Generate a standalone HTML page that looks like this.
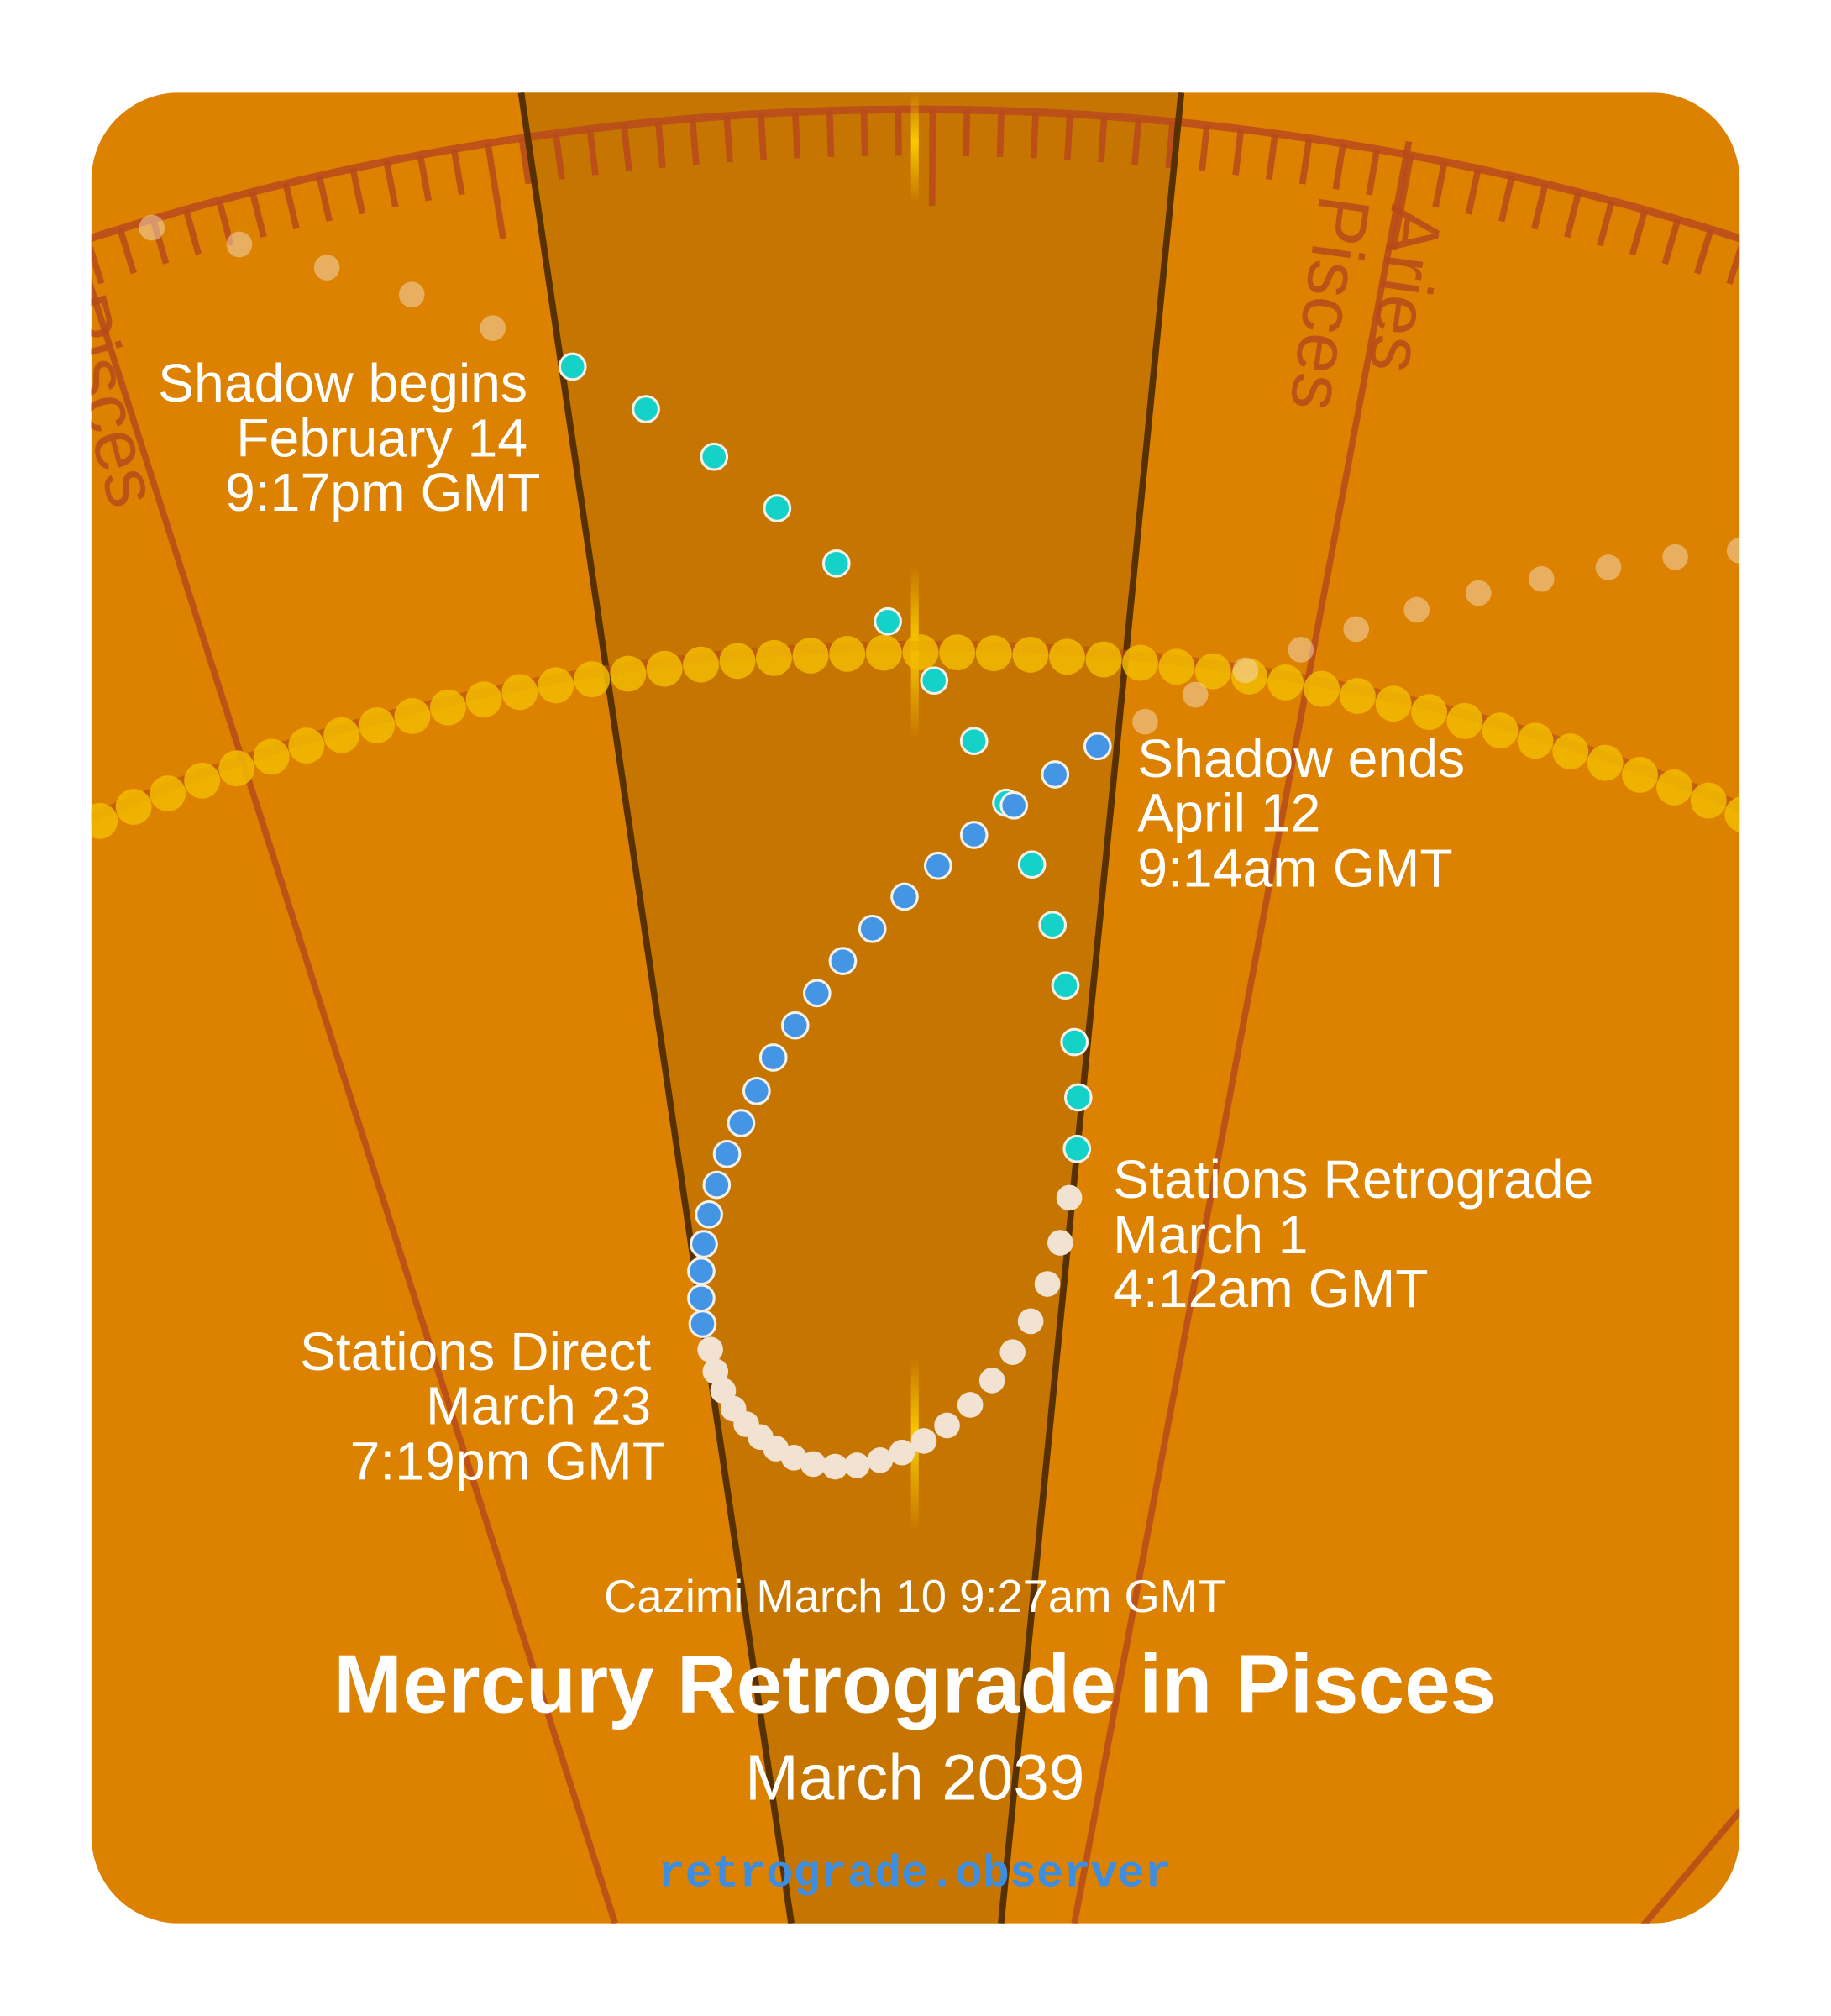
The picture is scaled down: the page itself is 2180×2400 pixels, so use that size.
<!DOCTYPE html>
<html><head><meta charset="utf-8"><style>
html,body{margin:0;padding:0;background:#fff;overflow:hidden;width:2180px;height:2400px;}
svg{display:block;}
text{font-family:"Liberation Sans",sans-serif;}
</style></head><body>
<svg id="s" width="2180" height="2400" viewBox="0 0 1423 1567" preserveAspectRatio="none" xmlns="http://www.w3.org/2000/svg">
<defs>
<clipPath id="card"><rect x="71" y="72" width="1281" height="1423" rx="68"/></clipPath>
<linearGradient id="yg" x1="0" y1="0" x2="0" y2="1">
<stop offset="0" stop-color="#ffd400" stop-opacity="0"/>
<stop offset="0.45" stop-color="#ffd400" stop-opacity="0.9"/>
<stop offset="1" stop-color="#ffd400" stop-opacity="0"/>
</linearGradient>
</defs>
<g clip-path="url(#card)">
<rect x="71" y="72" width="1281" height="1423" fill="#dd8200"/>
<polygon points="405,72 918,72 780,1495 612,1495" fill="#c67500"/>
<g id="bg"></g>
<line x1="405" y1="72" x2="615" y2="1495" stroke="#573200" stroke-width="5"/>
<line x1="918" y1="72" x2="778" y2="1495" stroke="#573200" stroke-width="5"/>
<rect x="708" y="72" width="6" height="85" fill="url(#yg)"/>
<rect x="708" y="440" width="6" height="135" fill="url(#yg)"/>
<rect x="708" y="1055" width="6" height="135" fill="url(#yg)"/>
<g fill="#b84a1c" opacity="0.85" font-size="57">
<text transform="translate(1026,150) rotate(98)">Pisces</text>
<text transform="translate(1082,158) rotate(98)">Aries</text>
<text transform="translate(43,235) rotate(75)">Pisces</text>
</g>
<g id="dots"></g>
</g>
<g fill="#fff" font-size="42">
<g text-anchor="end">
<text x="410" y="312">Shadow begins</text>
<text x="410" y="355">February 14</text>
<text x="420" y="397">9:17pm GMT</text>
<text x="506" y="1065">Stations Direct</text>
<text x="506" y="1107">March 23</text>
<text x="517" y="1150">7:19pm GMT</text>
</g>
<text x="884" y="604">Shadow ends</text>
<text x="884" y="646">April 12</text>
<text x="884" y="689">9:14am GMT</text>
<text x="865" y="931">Stations Retrograde</text>
<text x="865" y="974">March 1</text>
<text x="865" y="1016">4:12am GMT</text>
<text x="711" y="1253" text-anchor="middle" font-size="35.5">Cazimi March 10 9:27am GMT</text>
<text x="711" y="1331" text-anchor="middle" font-size="64" font-weight="bold">Mercury Retrograde in Pisces</text>
<text x="711" y="1399" text-anchor="middle" font-size="50">March 2039</text>
<text x="711" y="1466" text-anchor="middle" font-size="35" font-weight="bold" fill="#3d8ee0" style="font-family:'Liberation Mono',monospace">retrograde.observer</text>
</g>
</svg>
<script>
const NS="http://www.w3.org/2000/svg";
function el(p,t,a){const e=document.createElementNS(NS,t);for(const k in a)e.setAttribute(k,a[k]);p.appendChild(e);return e;}
const bg=document.getElementById('bg'),dots=document.getElementById('dots');
const red="#b84a1c";
const cx=711,cy=2183,R=2098;
el(bg,'circle',{cx:cx,cy:cy,r:R,fill:'none',stroke:red,'stroke-width':6,opacity:0.85});
const step=26.7/R;
for(let i=-30;i<=30;i++){
 const a=i*step+0.0066;
 const px=cx+R*Math.sin(a);
 let L=36;
 if(Math.abs(px-375)<13||Math.abs(px-725)<13||Math.abs(px-1090)<13)L=75;
 const x1=cx+R*Math.sin(a),y1=cy-R*Math.cos(a),x2=cx+(R-L)*Math.sin(a),y2=cy-(R-L)*Math.cos(a);
 el(bg,'line',{x1:x1,y1:y1,x2:x2,y2:y2,stroke:red,'stroke-width':5,opacity:0.85});
}
el(bg,'line',{x1:60,y1:190,x2:478,y2:1495,stroke:red,'stroke-width':5,opacity:0.85});
el(bg,'line',{x1:1095,y1:110,x2:835,y2:1495,stroke:red,'stroke-width':5,opacity:0.85});
el(bg,'line',{x1:1380,y1:1375,x2:1270,y2:1505,stroke:red,'stroke-width':5,opacity:0.85});
const sx=722,sy=2157,SR=1650;
el(dots,'circle',{cx:sx,cy:sy-5,r:SR,fill:'none',stroke:red,'stroke-width':8,opacity:0.6});
for(let i=-24;i<=24;i++){
 const a=i*28.5/SR-0.004;
 el(dots,'circle',{cx:sx+SR*Math.sin(a),cy:sy-SR*Math.cos(a),r:14,fill:'#f2bb00',opacity:0.85});
}
const faint=[[118,177],[186,190],[254,208],[320,229],[383,255],[1352,428],[1302,433],[1250,441],[1198,450],[1149,461],[1101,474],[1054,489],[1011,505],[968,521],[929,540],[890,561]];
faint.forEach(p=>el(dots,'circle',{cx:p[0],cy:p[1],r:10,fill:'#f5dcc0',opacity:0.5}));
const cream=[[831,931],[824,966],[814,998],[801,1027],[787,1051],[771,1073],[754,1092],[736,1108],[718,1120],[701,1129],[684,1135],[666,1139],[649,1140],[632,1138],[617,1133],[603,1126],[591,1117],[580,1107],[570,1095],[562,1081],[556,1066],[552,1049]];
cream.forEach(p=>el(dots,'circle',{cx:p[0],cy:p[1],r:10,fill:'#f1e2d2'}));
const teal=[[445,285],[502,318],[555,355],[604,395],[650,438],[690,483],[726,529],[757,576],[782,624],[802,672],[818,719],[828,766],[835,810],[838,853],[837,893]];
teal.forEach(p=>el(dots,'circle',{cx:p[0],cy:p[1],r:10,fill:'#14d2c8',stroke:'#f5f0e8','stroke-width':2}));
const blue=[[546,1029],[545,1009],[545,988],[547,967],[551,944],[557,921],[565,897],[576,873],[588,848],[601,822],[618,797],[635,772],[655,747],[678,722],[703,697],[729,673],[757,649],[788,626],[820,602],[853,580]];
blue.forEach(p=>el(dots,'circle',{cx:p[0],cy:p[1],r:10,fill:'#4595e5',stroke:'#f5f0e8','stroke-width':2}));
</script>
</body></html>
